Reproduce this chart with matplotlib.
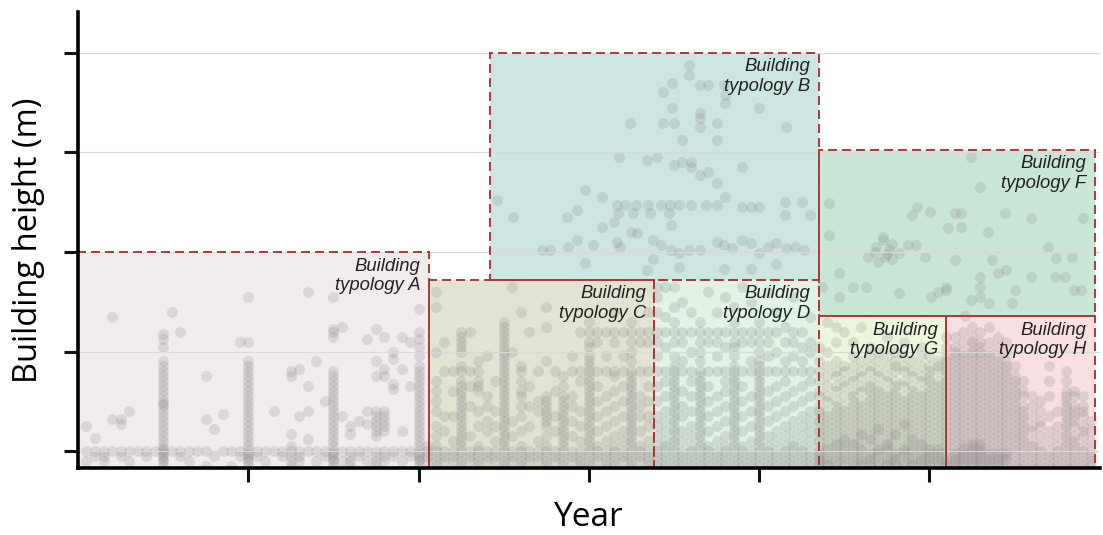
import matplotlib.pyplot as plt
from matplotlib.patches import Rectangle

# typology boxes: name, start year, end year, bottom height, top height, fill colour
box_names = ['A', 'C', 'B', 'D', 'F', 'G', 'H']
box_x0 = [1880.0, 1921.2, 1928.4, 1947.7, 1967.0, 1967.0, 1982.0]
box_x1 = [1921.2, 1947.7, 1967.0, 1967.0, 1999.4, 1982.0, 1999.4]
box_y0 = [1.6, 1.6, 39.4, 1.6, 32.1, 1.6, 1.6]
box_y1 = [45.0, 39.4, 85.0, 39.4, 65.5, 32.1, 32.1]
box_fill = ['#f2ebec', '#e3e3d3', '#cde6e2', '#e0f3e4', '#c8e7d6', '#edf5dc', '#f9dfe2']

# building heights per construction year
pts_a = {
    1881: '3 5 10', 1882: '4 5 7.6', 1883: '3 4 5', 1884: '5 11.5 32',
    1885: '4 5 10.5 11.5', 1886: '3 5 13', 1887: '5', 1888: '4 5', 1889: '5',
    1890: '2 3 3.5 4 4.5 5 5.5 6 7 8 9 10 11 12 13 14 14.5 15 16 17 18 19 20 21 22 23 26 27.5 28.5',
    1891: '5 33', 1892: '4 5 29', 1893: '3 5', 1894: '5', 1895: '2 5 11.5 20',
    1896: '4 9.5', 1897: '5 12.5', 1898: '2 5', 1899: '4 5 27',
    1900: '2 3 3.5 4 4.5 5 6 7 8 9 10 11 12 13 14 15 16 17 18 19 20 21 22 23 27 36',
    1901: '4 5', 1902: '3 5', 1903: '5 13', 1904: '4 5', 1905: '2 3 4 5 6 8.5 20 21',
    1906: '3 4 5 12 21.5', 1907: '5 7.5 13 18 37', 1908: '3 5 23', 1909: '4 5 15',
    1910: '2 3 3.5 4 4.5 5 6 7 8 9 10 11 12 13 14 15 16 17 18 19 20 21 28 29 29.5 36',
    1911: '3 5 12 30', 1912: '2 3 4 5 8.5 10', 1913: '4 5 11', 1914: '3 5 10.5 13 27.5',
    1915: '2 3 4 5 8 9 10 11 12 13 20 23 29.5', 1916: '3 4 5 9 10 11 12 13 20 21.5 28',
    1917: '4 5 17.5 18.5 23.5 25', 1918: '3 5 9 21.5 28', 1919: '4 5 18 27',
    1920: '2 3 3.5 4 4.5 5 6 7 8 9 10 11 12 13 14 15 16 17 18 19 20 21 22 24 26 27.5 29 33.5',
}
pts_c = {
    1921: '3 4 5 6', 1922: '2 3 4 5 6 8 10 13 15 17 19 25 34 37',
    1923: '3 4 5 9 12 21 27', 1924: '3 4 5 7 12 17 21',
    1925: '2 3 4 5 6 7 8 9 10 11 12 13 14 15 16 17 18 19 21 22 25 26 27 28 29',
    1926: '3 4 5 8 14 18 21 29', 1927: '2 3 4 5 6 10 13 17 18 19 21 23',
    1928: '3 4 5 9 11 14 16 24', 1929: '3 4 5 7 10 13 19',
    1930: '2 3 4 5 6 7 8 9 10 11 12 13 14 15 16 17 18 19 20 21 22 23 24 25 26 27 28 29 30 31',
    1931: '3 4 5 8 11 25 38', 1932: '2 3 4 5 6 9 12 14 16 17 19 21 22 33',
    1933: '3 4 5 10 14 18 29', 1934: '3 4 5 7 13 15 21',
    1935: '2 3 4 5 6 8 10 11 12 13 14 15 16 23 30 34', 1936: '3 4 5 9 12 17 21',
    1937: '2 3 4 5 6 7 8 9 10 11 12 13 14 15 16 18 20', 1938: '3 4 5 8 11 14 16 21 24',
    1939: '2 3 4 5 7 10 13 19 21 29',
    1940: '2 3 4 5 6 7 8 9 10 11 12 13 14 15 16 17 18 19 20 21 22 23 24 26 27 29 31',
    1941: '3 4 5 6 9 12 15 18 21 27 29', 1942: '2 3 4 5 7 10 13 16 21 24 29',
    1943: '2 3 4 5 6 8 11 14 17 20 21 27 29 33', 1944: '3 4 5 7 9 12 15 18 21 24 29',
    1945: '2 3 4 5 6 7 8 9 10 11 12 13 14 15 16 17 18 19 20 21 23 25 27 29 31',
    1946: '3 4 5 6 9 12 14 16 21 27 29', 1947: '2 3 4 5 7 10 12 15 18 21 27 29 33',
}
pts_d = {
    1948: '2 3 4 5 6 8 10 12 15 18 21 24 27 29 33 36 38',
    1949: '2 3 4 5 6 7 9 11 13 16 19 21 26 29 32 38',
    1950: '2 3 4 5 6 7 8 9 10 11 12 13 14 15 16 17 18 19 20 21 22 24 27 29 31 34 38',
    1951: '2 3 4 5 7 9 12 14 17 21 23 27 29 35',
    1952: '2 3 4 5 6 8 10 13 16 19 21 25 29 33',
    1953: '2 3 4 5 6 7 8 9 10 11 12 13 14 15 16 17 18 19 20 21 23 25 27 29 31',
    1954: '2 3 4 5 6 9 12 15 18 21 27 29 37',
    1955: '2 3 4 5 7 10 13 16 21 24 27 29 33',
    1956: '2 3 4 5 6 8 11 14 17 19 21 26 29 36',
    1957: '2 3 4 5 6 7 8 9 10 11 12 13 14 15 16 17 18 19 20 21 22 24 26 27 29 31 34',
    1958: '2 3 4 5 6 9 12 15 18 21 27 29 38',
    1959: '2 3 4 5 7 10 13 16 21 23 27 29 35',
    1960: '2 3 4 5 6 7 8 9 10 11 12 13 14 15 16 17 18 19 20 21 22 23 25 27 29 31',
    1961: '2 3 4 5 6 8 11 14 17 21 24 27 29 37',
    1962: '2 3 4 5 7 9 12 15 18 21 25 29 33',
    1963: '2 3 4 5 6 8 10 13 16 19 21 23 27 30',
    1964: '2 3 4 5 6 7 9 11 14 17 21 24 27 29 36',
    1965: '2 3 4 5 6 8 10 12 15 18 21 23 26 29',
    1966: '2 3 4 5 7 9 11 13 16 19 21 25 27 32',
}
pts_g = {
    1967: '2 2.5 3 3.5 4 4.5 5 6 7 8 9 10 11 12 13 14 16 17 19 21 23 26',
    1968: '2 2.5 3 3.5 4 5 5.5 6 7 8 9 10 11 12 13 15 16 18 20 22 25 31',
    1969: '2 2.5 3 4 4.5 5 6 6.5 7 8 9 10 11 12 13 14 15 17 18 20 21 23 27 30',
    1970: '2 3 3.5 4 5 5.5 6 7 7.5 8 9 10 11 12 13 14 16 18 19 21 22 29',
    1971: '2 2.5 3 4 4.5 5 6 6.5 7 8 9 10 11 12 13 14 15 16 17 19 20 22 24 27',
    1972: '2 2.5 3 3.5 4 5 5.5 6 7 8 8.5 9 10 11 12 13 14 15 17 18 20 21 23 30',
    1973: '2 2.5 3 3.5 4 4.5 5 6 7 7.5 8 9 10 11 12 13 14 15 16 17 18 19 21 22 24 26',
    1974: '2 2.5 3 4 4.5 5 5.5 6 7 8 9 9.5 10 11 12 13 14 15 16 17 18 20 21 23 25',
    1975: '2 2.5 3 3.5 4 5 5.5 6 6.5 7 8 9 10 11 12 13 14 15 16 17 19 20 22 24 28',
    1976: '2 2.5 3 3.5 4 4.5 5 6 7 8 8.5 9 10 11 12 13 14 15 16 17 18 19 21 22 23 25',
    1977: '2 2.5 3 4 4.5 5 5.5 6 7 8 9 10 10.5 11 12 13 14 15 16 18 19 21 22 24 27',
    1978: '2 2.5 3 3.5 4 5 5.5 6 7 7.5 8 9 10 11 12 13 14 15 16 17 18 20 21 23',
    1979: '2 2.5 3 3.5 4 4.5 5 6 6.5 7 8 9 10 11 12 13 14 15 16 17 19 20 22 24 26',
    1980: '2 2.5 3 3.5 4 4.5 5 5.5 6 7 8 9 10 11 12 13 14 15 16 17 18 19 20 21 22 24',
    1981: '2 2.5 3 3.5 4 4.5 5 5.5 6 7 8 9 10 11 12 13 14 15 16 17 18 19 21 22 23',
}
pts_h = {
    1982: '2 2.5 3 3.5 4 5 6 7 8 9 10 11 12 13 14 15 16 17 18 19 20 21 22 23 24 26 28',
    1983: '2 2.5 3 3.5 4 4.5 5 6 7 8 9 10 11 12 13 14 15 16 17 18 19 20 21 22 23 24 25 26 28',
    1984: '2 2.5 3 3.5 4 4.5 5 5.5 6 7 8 9 10 11 12 13 14 15 16 17 18 19 20 21 22 23 24 25 27 29',
    1985: '2 2.5 3 3.5 4 4.5 5 5.5 6 6.5 7 8 9 10 11 12 13 14 15 16 17 18 19 20 21 22 23 24 25 26 27 28 30',
    1986: '2 2.5 3 3.5 4 4.5 5 5.5 6 6.5 7 8 9 10 11 12 13 14 15 16 17 18 19 20 21 22 23 24 25 26 27 29',
    1987: '2 2.5 3 3.5 4 4.5 5 6 7 8 9 10 11 12 13 14 15 16 17 18 19 20 21 22 23 24 25 27 30',
    1988: '2 2.5 3 3.5 4 4.5 5 6 7 8 9 10 11 12 13 14 15 16 17 18 19 20 21 22 23 24 26 28',
    1989: '2 3 3.5 4 4.5 5 6 7 8 9 10 11 12 13 14 15 16 17 18 19 20 21 22 23 25 27',
    1990: '2 3 4 5 6 7 8 9 10 11 12 13 14 15 16 17 18 19 20 22',
    1991: '2 3 4 5 6 7 8 9 10 11 12 13 14 16 17 19',
    1992: '2 3 4 5 6 7 9 10 12 14 16', 1993: '2 3 4 5 6 8 10 11 13 15',
    1994: '2 3 4 5 7 9 12 16 19 22', 1995: '2 3 4 5 6 8 10 13',
    1996: '2 3 4 5 6 7 8 9 10 11 12 13 14 15 16 17 19 21',
    1997: '2 3 4 5 6 7 8 10 11 12 13 14 16 17',
    1998: '2 3 4 5 6 8 9 10 12 13 14 16', 1999: '2 3 4 5 7 9 11',
}
# taller buildings (boxes B and F), year and height pairs
tall_year = [1951.8, 1951.8, 1949.8, 1948.7, 1953, 1954, 1955.9, 1956, 1956, 1949.8, 1953, 1955,
             1953, 1953, 1950, 1948.7, 1944.8, 1960, 1963.2, 1950.9, 1955, 1943.6, 1946.8, 1948,
             1950, 1951, 1952, 1953, 1952, 1954, 1955, 1958, 1939.5, 1941.6, 1931.1, 1929.2,
             1937.4, 1938.6, 1943.3, 1944.3, 1945.5, 1947, 1948.5, 1949.5, 1950.6, 1952,
             1953.8, 1955, 1943.4, 1945.2, 1947.2, 1949.4, 1943, 1945, 1949.6, 1958, 1959.1,
             1960, 1963, 1965, 1966, 1963, 1934.5, 1935.4, 1937.5, 1938.6, 1940.5, 1943.3,
             1943.7, 1945.6, 1947.5, 1948.5, 1949.7, 1950.6, 1951.8, 1953, 1955, 1955.9, 1956.8,
             1958, 1959.1, 1960, 1961.1, 1962, 1963.2, 1964.2, 1965.3, 1939.5, 1946.8, 1955.9,
             1959.1, 1962, 1956, 1947.5, 1950.6, 1941.6,
             1984.9, 1986, 1988.9, 1991.9, 1998, 1977.9, 1978.5, 1980.1, 1983, 1983.7, 1983.7,
             1986.9, 1982.2, 1973.7, 1974.6, 1975.6, 1977.5, 1978.4, 1974, 1974.8, 1975.6,
             1975, 1972.8, 1973.6, 1976.4, 1979.5, 1983, 1981.9, 1986, 1986, 1986, 1984.9, 1988,
             1989, 1990, 1987.3, 1991.9, 1993.9, 1994.9, 1996.8, 1997, 1997.8, 1968.2, 1968.2,
             1969.4, 1971, 1972.5, 1967.4, 1969.4, 1976.4, 1980.2, 1981, 1982, 1987, 1989.7,
             1994.7, 1995.9, 1984.2, 1974.6, 1975.2]
tall_h = [82.6, 80.6, 79, 77.2, 78.6, 78.6, 78.6, 76.6, 75, 74, 73, 71,
          70, 72, 71, 71, 71, 74, 70, 67.5, 67.5, 64, 63.5, 64,
          62.5, 63, 62, 60.5, 63, 61, 58.8, 62, 57.5, 56, 52, 55.5,
          52, 53.5, 54.5, 54.5, 54.5, 54.5, 54.5, 54.5, 54.5, 54.5,
          54.5, 54.5, 52.8, 52.8, 52.8, 52.8, 51, 49, 50.5, 54, 54,
          54, 55, 55, 52.5, 52.5, 45.4, 45.4, 46, 47.4, 46.4, 47,
          46, 48.8, 47.4, 46.4, 45.4, 44.8, 45.4, 45.4, 47, 46.4, 45.8,
          47.4, 46.8, 44.8, 46, 46.8, 45.8, 46, 45.4, 42.8, 41.4, 41.5,
          41.6, 42.5, 56, 43.5, 42, 50,
          64, 58, 52.8, 51.8, 51.8, 52.5, 54, 53, 52.8, 52.8, 50,
          49, 49.8, 46, 47.4, 46.5, 46.4, 46.4, 43, 44, 43.5,
          44.5, 44, 45, 44.8, 44, 43.4, 37.4, 36, 38, 40, 35.4, 40.8,
          41.4, 37.4, 43.4, 40, 46, 43.8, 44, 37.4, 37.4, 54.8, 48.4,
          40.8, 38, 38, 38, 36, 36.8, 36, 37, 38, 34.8, 34.8,
          40, 40, 32.2, 48, 45.5]


def flatten(pts):
    xs, ys = [], []
    for year, hs in pts.items():
        for h in hs.split():
            xs.append(year)
            ys.append(float(h))
    return xs, ys


fig = plt.figure(figsize=(11.03, 5.35), dpi=100)
ax = fig.add_axes([0.0707, 0.1252, 0.9263, 0.8524])

for i in range(len(box_names)):
    ax.add_patch(Rectangle((box_x0[i], box_y0[i]), box_x1[i] - box_x0[i], box_y1[i] - box_y0[i],
                           facecolor=box_fill[i], edgecolor='none', zorder=1))

ax.set_yticks([5, 25, 45, 65, 85])
ax.set_xticks([1900, 1920, 1940, 1960, 1980])
ax.yaxis.grid(True, color='#d9d9d9', lw=0.8, zorder=1.5)
ax.set_axisbelow(False)

for pts in [pts_a, pts_c, pts_d, pts_g, pts_h]:
    xs, ys = flatten(pts)
    ax.scatter(xs, ys, s=62, color='#888888', alpha=0.22, linewidths=0, zorder=2)
ax.scatter(tall_year, tall_h, s=62, color='#888888', alpha=0.22, linewidths=0, zorder=2)

for i in range(len(box_names)):
    ax.add_patch(Rectangle((box_x0[i], box_y0[i]), box_x1[i] - box_x0[i], box_y1[i] - box_y0[i],
                           facecolor='none', edgecolor='#a83a3a', lw=1.4,
                           linestyle=(0, (4.6, 2.6)), zorder=3))
    ax.annotate('Building\ntypology ' + box_names[i], xy=(box_x1[i], box_y1[i]),
                xytext=(-6, -4), textcoords='offset points', ha='right', va='top',
                multialignment='right', fontsize=13.3, style='italic',
                family='Liberation Sans', color='#222222', zorder=4)
ax.plot([1982.0, 1982.0], [1.6, 32.1], color='#a83a3a', lw=1.2, zorder=3)

ax.set_xlim(1880, 2000)
ax.set_ylim(1.6, 93.2)
ax.spines['top'].set_visible(False)
ax.spines['right'].set_visible(False)
ax.spines['left'].set_linewidth(2.6)
ax.spines['bottom'].set_linewidth(2.6)
ax.spines['left'].set_zorder(5)
ax.spines['bottom'].set_zorder(5)
ax.tick_params(axis='both', length=10, width=2.2, color='#111111',
               labelleft=False, labelbottom=False)
ax.set_xlabel('Year', fontsize=24, family='Open Sans', labelpad=14)
ax.set_ylabel('Building height (m)', fontsize=23.5, family='Open Sans', labelpad=14)

fig.savefig('out.png', dpi=100)
